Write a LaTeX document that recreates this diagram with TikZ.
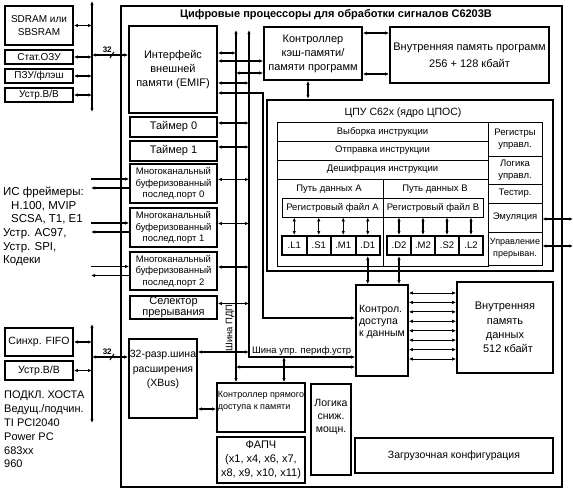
\documentclass[tikz,border=0pt]{standalone}
\usepackage{fontspec}
\setmainfont{Liberation Sans}
\usetikzlibrary{arrows.meta}
\newcommand{\fsz}[2]{\fontsize{#1}{#2}\selectfont}

\tikzset{
  blk/.style={draw, line width=1.6pt, inner sep=0pt, align=center, font=\fsz{11}{14}},
  tcell/.style={draw, line width=0.8pt, inner sep=0pt, align=center, font=\fsz{9.5}{12}},
  fnunit/.style={draw, line width=2pt, inner sep=0pt, minimum width=24.5pt, minimum height=19pt, font=\fsz{9.5}{11}},
  txt/.style={inner sep=0pt, align=left, anchor=north west, font=\fsz{11}{13.8}},
  wire/.style={line width=1.6pt, <->},
  fine/.style={line width=0.8pt, <->},
}

\begin{document}
\begin{tikzpicture}[x=1pt, y=-1pt, >={Latex[length=4pt,width=3.4pt]}]
    \useasboundingbox (0,0) rectangle (573,493);

    % chip frame
    \node[draw, line width=2.4pt, minimum width=441pt, minimum height=481pt, inner sep=0pt] (chip) at (341.5,246.5) {};
    \node[font=\fsz{11}{12}\bfseries] (title) at (336,15) {Цифровые процессоры для обработки сигналов C6203B};

    % external devices
    \node[blk, font=\fsz{10}{13}, minimum width=68pt, minimum height=39pt] (sdram) at (39,25.5) {SDRAM или\\SBSRAM};
    \node[blk, font=\fsz{10}{13}, minimum width=68pt, minimum height=14pt] (sram) at (39,57) {Стат.ОЗУ};
    \node[blk, font=\fsz{10}{13}, minimum width=68pt, minimum height=14pt] (rom) at (39,76) {ПЗУ/флэш};
    \node[blk, font=\fsz{10}{13}, minimum width=68pt, minimum height=14pt] (extio) at (39,95) {Устр.В/В};
    \node[blk, font=\fsz{10.5}{13}, minimum width=68pt, minimum height=28pt] (fifo) at (39,342) {Синхр. FIFO};
    \node[blk, font=\fsz{10.5}{13}, minimum width=68pt, minimum height=19pt] (hostio) at (39,370.5) {Устр.В/В};
    \node[txt, font=\fsz{11.5}{13.6}] (framers) at (3,187) {ИС фреймеры:\\\hspace*{8pt}H.100, MVIP\\\hspace*{8pt}SCSA, T1, E1\\Устр. AC97,\\Устр. SPI,\\Кодеки};
    \node[txt] (host) at (4,391) {ПОДКЛ. ХОСТА\\Ведущ./подчин.\\TI PCI2040\\Power PC\\683xx\\960};

    % peripherals
    \node[blk, minimum width=88pt, minimum height=87pt] (emif) at (173,69.5) {Интерфейс\\внешней\\памяти (EMIF)};
    \node[blk, minimum width=87pt, minimum height=20pt] (timer0) at (173.5,127) {Таймер 0};
    \node[blk, minimum width=87pt, minimum height=20pt] (timer1) at (173.5,151) {Таймер 1};
    \node[blk, font=\fsz{9.5}{11.5}, minimum width=87pt, minimum height=39pt] (port0) at (173.5,183.5) {Многоканальный\\буферизованный\\послед.порт 0};
    \node[blk, font=\fsz{9.5}{11.5}, minimum width=87pt, minimum height=39pt] (port1) at (173.5,227.5) {Многоканальный\\буферизованный\\послед.порт 1};
    \node[blk, font=\fsz{9.5}{11.5}, minimum width=87pt, minimum height=38pt] (port2) at (173.5,271) {Многоканальный\\буферизованный\\послед.порт 2};
    \node[blk, font=\fsz{11}{11}, minimum width=87pt, minimum height=23pt] (sel) at (173.5,307.5) {Селектор\\прерывания};
    \node[blk, font=\fsz{10.5}{14.5}, minimum width=68pt, minimum height=79pt] (xbus) at (163,378.5) {32-разр.шина\\расширения\\(XBus)\\[5pt]};
    \node[blk, font=\fsz{9}{12}, align=left, minimum width=88pt, minimum height=49pt] (dmac) at (261,407.5) {Контроллер прямого\\доступа к памяти\\[3pt]};
    \node[blk, minimum width=88pt, minimum height=46pt] (pll) at (261,460) {ФАПЧ\\(x1, x4, x6, x7,\\x8, x9, x10, x11)};
    \node[blk, font=\fsz{10.5}{13}, minimum width=40pt, minimum height=91pt] (power) at (331,429.5) {Логика\\сниж.\\мощн.\\[14pt]};
    \node[blk, font=\fsz{10.5}{13}, minimum width=198pt, minimum height=35pt] (boot) at (454,455.5) {Загрузочная конфигурация};
    \node[blk, font=\fsz{10.5}{12}, align=left, minimum width=52pt, minimum height=91pt] (dac) at (382,330.5) {Контрол.\\доступа\\к данным\\[8pt]};
    \node[blk, font=\fsz{11}{14.3}, minimum width=96pt, minimum height=91pt] (dmem) at (505,327.5) {Внутренняя\\память\\данных\\\hspace*{6pt}512 кбайт};
    \node[blk, minimum width=98pt, minimum height=53pt] (cache) at (313,53.5) {Контроллер\\кэш-памяти/\\памяти программ};
    \node[blk, font=\fsz{11}{17}, minimum width=159pt, minimum height=56pt] (pmem) at (469.5,55) {Внутренняя память программ\\256 + 128 кбайт};

    % CPU core
    \node[draw, line width=2.4pt, minimum width=286pt, minimum height=171pt, inner sep=0pt] (cpu) at (410,185.5) {};
    \node[font=\fsz{10.5}{12}] (cputitle) at (403,113) {ЦПУ C62x (ядро ЦПОС)};
    \node[tcell, minimum width=211pt, minimum height=19pt] (fetch) at (382.5,131.5) {Выборка инструкции};
    \node[tcell, minimum width=211pt, minimum height=19pt] (disp) at (382.5,150.5) {Отправка инструкции};
    \node[tcell, minimum width=211pt, minimum height=19pt] (dec) at (382.5,169.5) {Дешифрация инструкции};
    \node[tcell, minimum width=106pt, minimum height=87pt] (patha) at (330,222.5) {};
    \node[tcell, minimum width=105pt, minimum height=87pt] (pathb) at (435.5,222.5) {};
    \node[font=\fsz{9.5}{11}] (pathalbl) at (329,189) {Путь данных А};
    \node[font=\fsz{9.5}{11}] (pathblbl) at (435,189) {Путь данных В};
    \node[tcell, minimum width=101pt, minimum height=19pt] (rega) at (332.5,207.5) {Регистровый файл А};
    \node[tcell, minimum width=100pt, minimum height=19pt] (regb) at (433,207.5) {Регистровый файл В};
    \foreach \nm [count=\i] in {.L1,.S1,.M1,.D1}
        \node[fnunit] (ua\i) at ({269.75+24.5*\i},245.5) {\nm};
    \foreach \nm [count=\i] in {.D2,.M2,.S2,.L2}
        \node[fnunit, minimum width=24pt] (ub\i) at ({375+24*\i},245.5) {\nm};
    \node[tcell, minimum width=54pt, minimum height=34pt] (ctlreg) at (515,139) {Регистры\\управл.};
    \node[tcell, minimum width=54pt, minimum height=28pt] (ctllog) at (515,170) {Логика\\управл.};
    \node[tcell, minimum width=54pt, minimum height=19pt] (test) at (515,193.5) {Тестир.};
    \node[tcell, minimum width=54pt, minimum height=29pt] (emu) at (515,217.5) {Эмуляция};
    \node[tcell, font=\fsz{9}{12}, minimum width=54pt, minimum height=33pt] (intr) at (515,248.5) {Управление\\прерыван.};

    % buses
    \coordinate (mbtop) at (92,1);
    \coordinate (mbbot) at (92,112);
    \coordinate (hbtop) at (92,324);
    \coordinate (hbbot) at (92,423);
    \coordinate (frm) at (91,0);
    \coordinate (dbtop) at (236,30);
    \coordinate (pbtop) at (249,30);
    \coordinate (pbturn) at (249,357);
    \coordinate (lp) at (263,0);
    \coordinate (redge) at (573,0);

    \draw[wire] (mbtop) -- (mbbot);
    \draw[wire] (sdram.east) -- (sdram.east -| mbtop);
    \draw[wire] (sram.east) -- (sram.east -| mbtop);
    \draw[wire] (rom.east) -- (rom.east -| mbtop);
    \draw[wire] (extio.east) -- (extio.east -| mbtop);
    \draw[wire] ([yshift=14.5pt]emif.west -| mbtop) -- ([yshift=14.5pt]emif.west)
        node[pos=0.42, above=2pt, inner sep=0pt, font=\fsz{8}{8}\bfseries] (w32a) {32}
        coordinate[pos=0.55] (s32a);
    \draw[line width=1pt] ([shift={(-2pt,-3pt)}]s32a) -- ([shift={(2pt,3pt)}]s32a);

    \draw[wire] (hbtop) -- (hbbot);
    \draw[wire] (fifo.east) -- (fifo.east -| hbtop);
    \draw[wire] (hostio.east) -- (hostio.east -| hbtop);
    \draw[wire] ([yshift=21.5pt]xbus.west -| hbtop) -- ([yshift=21.5pt]xbus.west)
        node[pos=0.42, above=2pt, inner sep=0pt, font=\fsz{8}{8}\bfseries] (w32b) {32}
        coordinate[pos=0.55] (s32b);
    \draw[line width=1pt] ([shift={(-2pt,-3pt)}]s32b) -- ([shift={(2pt,3pt)}]s32b);

    \foreach \p in {port0,port1,port2} {
        \draw[line width=1.6pt, ->] ([yshift=4.5pt]\p.west -| frm) -- ([yshift=4.5pt]\p.west);
        \draw[line width=1.6pt, <-] ([yshift=-4.5pt]\p.west -| frm) -- ([yshift=-4.5pt]\p.west);
    }

    \draw[wire] (dbtop) -- (dbtop |- dmac.north);
    \draw[wire] (pbtop) -- (pbturn) -- (pbturn -| dac.west);
    \node[rotate=90, inner sep=0pt, font=\fsz{9.5}{10}] (dblbl) at (230,328) {Шина ПДП};
    \node[anchor=south west, inner sep=1pt, font=\fsz{9.5}{10}] (pblbl) at ([xshift=2pt]pbturn) {Шина упр. периф.устр};

    \draw[wire] ([yshift=16.5pt]emif.east) -- ([yshift=16.5pt]emif.east -| dbtop);
    \draw[wire] ([yshift=8.5pt]emif.east) -- ([yshift=8.5pt]emif.east -| cache.west);
    \draw[wire] ([yshift=-19.5pt]cache.west -| dbtop) -- ([yshift=-19.5pt]cache.west);
    \draw[wire] ([yshift=-13.5pt]emif.east) -- ([yshift=-13.5pt]emif.east -| pbtop);
    \draw[wire] ([yshift=-23.5pt]emif.east) -- ([yshift=-23.5pt]emif.east -| lp)
        -- ([yshift=12.5pt]dac.west -| lp) -- ([yshift=12.5pt]dac.west);
    \foreach \p in {timer0,timer1,port0,port1,port2,sel}
        \draw[wire] ([yshift=4pt]\p.east) -- ([yshift=4pt]\p.east -| pbtop);

    \draw[wire] ([yshift=26.5pt]xbus.east) -- ([yshift=26.5pt]xbus.east -| pbtop);
    \draw[wire] ([yshift=-30.5pt]xbus.east) -- ([yshift=-30.5pt]xbus.east -| dmac.west);
    \draw[wire] ([yshift=-36.5pt]dac.west -| dbtop) -- ([yshift=-36.5pt]dac.west);
    \draw[wire] ([xshift=23pt]dmac.north) -- ([xshift=23pt]dmac.north |- pbturn);

    \draw[wire] ([yshift=20.5pt]cache.east) -- ([yshift=20.5pt]cache.east -| pmem.west);
    \draw[wire] ([yshift=-20.5pt]cache.east) -- ([yshift=-20.5pt]cache.east -| pmem.west);
    \draw[wire] ([xshift=-5pt]cache.south) -- ([xshift=-5pt]cache.south |- cpu.north);

    \foreach \i in {1,...,4} {
        \draw[wire, line width=1.2pt] (ua\i.north) -- (ua\i.north |- rega.south);
        \draw[wire, line width=1.2pt] (ub\i.north) -- (ub\i.north |- regb.south);
    }
    \draw[wire] (ua4.south) -- (ua4.south |- dac.north);
    \draw[wire] (ub1.south) -- (ub1.south |- dac.north);

    \draw[wire] ([yshift=-1.5pt]emu.east) -- ([yshift=-1.5pt]emu.east -| redge);
    \draw[wire] ([yshift=2.5pt]intr.east) -- ([yshift=2.5pt]intr.east -| redge);

    \foreach \k in {0,...,7} {
        \pgfmathsetmacro\dy{37.5-9.43*\k}
        \draw[fine] ([yshift=\dy pt]dac.east) -- ([yshift=\dy pt]dac.east -| dmem.west);
    }
\end{tikzpicture}
\end{document}
